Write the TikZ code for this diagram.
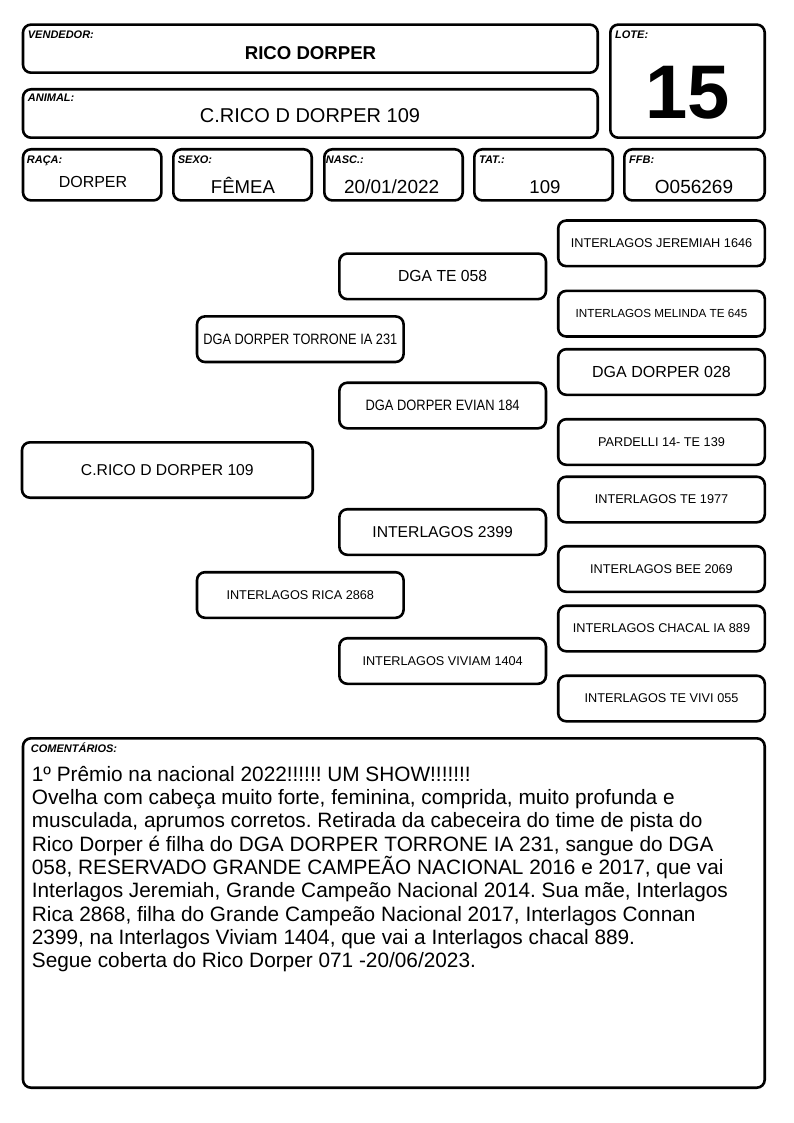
\documentclass[tikz,border=0pt]{standalone}
\usepackage{fontspec}
\setmainfont{Liberation Sans}
\usepackage{graphicx}
\newcommand{\fsz}[1]{\fontsize{#1}{#1}\selectfont}
\frenchspacing
\begin{document}
\begin{tikzpicture}[x=1pt,y=-1pt,
  bx/.style={draw=black, line width=2.6pt, rounded corners=8pt, inner sep=0pt},
  pbox/.style={bx, minimum width=206.6pt, minimum height=45.6pt, font=\fsz{12.7}},
  lbl/.style={anchor=base west, inner sep=0pt, font=\fsz{11}\bfseries\itshape},
  txt/.style={anchor=base, inner sep=0pt}]
\useasboundingbox (0,0) rectangle (794,1123);
% header boxes
\node[bx, minimum width=574.7pt, minimum height=48.1pt] (vend) at (310.35,48.65) {};
\node[bx, minimum width=574.7pt, minimum height=48.4pt] (anim) at (310.35,113.5) {};
\node[bx, minimum width=154.4pt, minimum height=113.1pt] (lote) at (687.5,81.15) {};
\node[bx, minimum width=138.4pt, minimum height=51.1pt] (raca) at (92.2,174.85) {};
\node[bx, minimum width=138.4pt, minimum height=51.1pt] (sexo) at (242.5,174.85) {};
\node[bx, minimum width=138.4pt, minimum height=51.1pt] (nasc) at (393.5,174.85) {};
\node[bx, minimum width=138.4pt, minimum height=51.1pt] (tat) at (543.5,174.85) {};
\node[bx, minimum width=140.4pt, minimum height=51.1pt] (ffb) at (694.5,174.85) {};
% labels
\node[lbl] (lvend) at (27.7,39) {VENDEDOR:};
\node[lbl] (lanim) at (27.7,101.7) {ANIMAL:};
\node[lbl] (llote) at (615,39) {LOTE:};
\node[lbl] (lraca) at (26.7,163.2) {RAÇA:};
\node[lbl] (lsexo) at (177.7,163.2) {SEXO:};
\node[lbl] (lnasc) at (325.7,163.2) {NASC.:};
\node[lbl] (ltat) at (479,163.2) {TAT.:};
\node[lbl] (lffb) at (629,163.2) {FFB:};
% header values
\node[txt, font=\fsz{18.6}\bfseries] (tvend) at (310.5,60) {RICO DORPER};
\node[txt, font=\fsz{20}] (tanim) at (310,122.7) {C.RICO D DORPER 109};
\node[txt, font=\fsz{76}\bfseries] (tlote) at (688,119) {15};
\node[txt, font=\fsz{16}] (traca) at (93,187.7) {DORPER};
\node[txt, font=\fsz{18.6}] (tsexo) at (243,193.3) {FÊMEA};
\node[txt, font=\fsz{19}] (tnasc) at (391.7,193.3) {20/01/2022};
\node[txt, font=\fsz{18.6}] (ttat) at (545,193.3) {109};
\node[txt, font=\fsz{19}] (tffb) at (694,193.3) {O056269};
% pedigree
\node[bx, minimum width=290.7pt, minimum height=55.4pt, font=\fsz{15.7}] (root) at (167.35,470) {C.RICO D DORPER 109};
\node[pbox] (sire) at (300.3,339.2) {\resizebox{194pt}{\height}{\fsz{15}DGA DORPER TORRONE IA 231}};
\node[pbox] (dam) at (300.3,595) {INTERLAGOS RICA 2868};
\node[pbox] (ss) at (442.65,276.35) {\resizebox{89pt}{\height}{\fsz{16}DGA TE 058}};
\node[pbox] (sd) at (442.65,405.5) {\resizebox{154pt}{\height}{\fsz{15}DGA DORPER EVIAN 184}};
\node[pbox, font=\fsz{15.7}] (ds) at (442.65,532) {INTERLAGOS 2399};
\node[pbox] (dd) at (442.65,661) {INTERLAGOS VIVIAM 1404};
\node[pbox] (sss) at (661.5,243.35) {INTERLAGOS JEREMIAH 1646};
\node[pbox, font=\fsz{11.7}] (ssd) at (661.5,313.7) {INTERLAGOS MELINDA TE 645};
\node[pbox, font=\fsz{16}] (sds) at (661.5,372) {DGA DORPER 028};
\node[pbox] (sdd) at (661.5,442) {PARDELLI 14- TE 139};
\node[pbox] (dss) at (661.5,499.5) {INTERLAGOS TE 1977};
\node[pbox] (dsd) at (661.5,569) {INTERLAGOS BEE 2069};
\node[pbox] (dds) at (661.5,628.5) {INTERLAGOS CHACAL IA 889};
\node[pbox] (ddd) at (661.5,698.5) {INTERLAGOS TE VIVI 055};
% comments
\node[bx, minimum width=741.7pt, minimum height=349.4pt] (com) at (393.85,913) {};
\node[lbl] (lcom) at (30.7,752) {COMENTÁRIOS:};
\node[anchor=base west, inner sep=0pt] (tcom) at (31.7,781.3) {\parbox[t]{750pt}{\raggedright\fontsize{20.8}{23.3}\selectfont
1º Prêmio na nacional 2022!!!!!! UM SHOW!!!!!!!\\
Ovelha com cabeça muito forte, feminina, comprida, muito profunda e\\
musculada, aprumos corretos. Retirada da cabeceira do time de pista do\\
Rico Dorper é filha do DGA DORPER TORRONE IA 231, sangue do DGA\\
058, RESERVADO GRANDE CAMPEÃO NACIONAL 2016 e 2017, que vai\\
Interlagos Jeremiah, Grande Campeão Nacional 2014. Sua mãe, Interlagos\\
Rica 2868, filha do Grande Campeão Nacional 2017, Interlagos Connan\\
2399, na Interlagos Viviam 1404, que vai a Interlagos chacal 889.\\
Segue coberta do Rico Dorper 071 -20/06/2023.}};
\end{tikzpicture}
\end{document}
